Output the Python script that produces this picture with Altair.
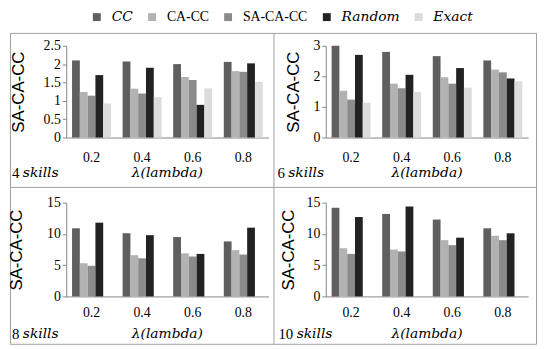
import altair as alt
import pandas as pd

# ---------------- data ----------------
lambdas = ["0.2", "0.4", "0.6", "0.8"]
methods = ["CC", "CA-CC", "SA-CA-CC", "Random", "Exact"]
colors = ["#5f5f5f", "#b2b2b2", "#8b8b8b", "#222222", "#dcdcdc"]

# 4 skills
cc_4 = [2.10, 2.07, 2.00, 2.06]
cacc_4 = [1.24, 1.33, 1.65, 1.81]
sacacc_4 = [1.14, 1.20, 1.57, 1.79]
random_4 = [1.70, 1.90, 0.89, 2.02]
exact_4 = [0.93, 1.10, 1.34, 1.52]

# 6 skills
cc_6 = [3.00, 2.80, 2.66, 2.52]
cacc_6 = [1.53, 1.76, 1.97, 2.22]
sacacc_6 = [1.24, 1.61, 1.76, 2.13]
random_6 = [2.70, 2.05, 2.27, 1.93]
exact_6 = [1.14, 1.49, 1.63, 1.84]

# 8 skills (no Exact)
cc_8 = [10.9, 10.1, 9.5, 8.8]
cacc_8 = [5.3, 6.6, 6.9, 7.4]
sacacc_8 = [4.9, 6.1, 6.4, 6.7]
random_8 = [11.8, 9.8, 6.8, 11.0]

# 10 skills (no Exact)
cc_10 = [14.2, 13.2, 12.3, 10.9]
cacc_10 = [7.7, 7.5, 9.0, 9.7]
sacacc_10 = [6.8, 7.2, 8.2, 9.0]
random_10 = [12.7, 14.4, 9.4, 10.1]

ticks_4 = [0, 0.5, 1, 1.5, 2, 2.5]
ticks_6 = [0, 1, 2, 3]
ticks_8 = [0, 5, 10, 15]
ticks_10 = [0, 5, 10, 15]

y_title = "SA-CA-CC"
x_title = "λ(lambda)"
unit_word = "skills"


def long_table(series):
    rows = []
    for method, vals in series.items():
        for lam, v in zip(lambdas, vals):
            rows.append({"lambda": lam, "method": method, "value": v})
    return pd.DataFrame(rows)


df_4 = long_table({"CC": cc_4, "CA-CC": cacc_4, "SA-CA-CC": sacacc_4, "Random": random_4, "Exact": exact_4})
df_6 = long_table({"CC": cc_6, "CA-CC": cacc_6, "SA-CA-CC": sacacc_6, "Random": random_6, "Exact": exact_6})
df_8 = long_table({"CC": cc_8, "CA-CC": cacc_8, "SA-CA-CC": sacacc_8, "Random": random_8})
df_10 = long_table({"CC": cc_10, "CA-CC": cacc_10, "SA-CA-CC": sacacc_10, "Random": random_10})

# ---------------- styling ----------------
SERIF = "Liberation Serif"
MATH = "DejaVu Serif"
AXIS = "#868686"
FRAME = "#a0a0a0"
W = 205
ITALIC_EXPR = "indexof(['CC','Random','Exact'], datum.label) >= 0"

legend = alt.Legend(
    title=None, orient="none", legendX=24, legendY=-36, direction="horizontal", columns=5,
    symbolType="square", symbolSize=64, symbolStrokeWidth=0, padding=0,
    labelFontSize=14, labelOffset=8, columnPadding=12, labelColor="#000",
    labelFont={"expr": f"{ITALIC_EXPR} ? '{MATH}' : '{SERIF}'"},
    labelFontStyle={"expr": f"{ITALIC_EXPR} ? 'italic' : 'normal'"},
)


def panel(df, n_skills, ticks, height, title_pad, label_pad, note_x, note_y, num_w, frame=False):
    bars = alt.Chart(df).mark_bar().encode(
        x=alt.X("lambda:N", sort=lambdas,
                scale=alt.Scale(domain=lambdas, paddingInner=0.23, paddingOuter=0.115),
                axis=alt.Axis(title=None, labelAngle=0, ticks=False, domainColor=AXIS,
                              labelFont=SERIF, labelFontSize=14, labelColor="#000",
                              labelPadding=label_pad)),
        xOffset=alt.XOffset("method:N", sort=methods,
                            scale=alt.Scale(domain=methods, paddingInner=0, paddingOuter=0)),
        y=alt.Y("value:Q", scale=alt.Scale(domain=[ticks[0], ticks[-1]], nice=False),
                axis=alt.Axis(values=ticks, format="~g", title=y_title, grid=False,
                              tickSize=4, tickColor=AXIS, domainColor=AXIS,
                              labelFont=SERIF, labelFontSize=14, labelColor="#000", labelPadding=2,
                              titleFont="Liberation Sans", titleFontSize=17, titleFontWeight="normal",
                              titleColor="#000", titlePadding=title_pad)),
        color=alt.Color("method:N", scale=alt.Scale(domain=methods, range=colors), legend=legend),
    )
    note_df = pd.DataFrame({"num": [str(n_skills)], "unit": [unit_word], "xl": [x_title]})
    note = alt.Chart(note_df)
    num = note.mark_text(align="left", baseline="middle", font=SERIF, fontSize=15, color="#000").encode(
        x=alt.value(note_x), y=alt.value(note_y), text="num:N")
    unit = note.mark_text(align="left", baseline="middle", font=MATH, fontSize=14, fontStyle="italic",
                          color="#000", dx=num_w).encode(
        x=alt.value(note_x), y=alt.value(note_y), text="unit:N")
    lam = note.mark_text(align="center", baseline="middle", font=MATH, fontSize=14, fontStyle="italic",
                         color="#000").encode(
        x=alt.value(W / 2), y=alt.value(note_y), text="xl:N")
    layers = [bars, num, unit, lam]
    if frame:
        box = note.mark_rect(fillOpacity=0, stroke=FRAME, strokeWidth=1).encode(
            x=alt.value(-56.5), x2=alt.value(476.5), y=alt.value(-12.5), y2=alt.value(302.5))
        vline = note.mark_rule(color=FRAME, strokeWidth=1).encode(
            x=alt.value(210.5), y=alt.value(-12.5), y2=alt.value(302.5))
        hline = note.mark_rule(color=FRAME, strokeWidth=1).encode(
            x=alt.value(-56.5), x2=alt.value(476.5), y=alt.value(143.5))
        layers += [box, vline, hline]
    return alt.layer(*layers).properties(width=W, height=height)


p1 = panel(df_4, 4, ticks_4, 93, 16, 13, -55, 129, 11, frame=True)
p2 = panel(df_6, 6, ticks_6, 93, 11, 13, -49, 129, 11)
p3 = panel(df_8, 8, ticks_8, 95, 21, 9, -55, 133, 11)
p4 = panel(df_10, 10, ticks_10, 95, 9, 9, -48, 133, 18.5)

chart = alt.concat(p1, p2, p3, p4, columns=2,
                   spacing=alt.RowColnumber(row=66, column=58), bounds="flush").properties(
    padding=0
).configure_view(stroke=None)

chart.save("out.html", embed_options={"renderer": "svg", "actions": False})
